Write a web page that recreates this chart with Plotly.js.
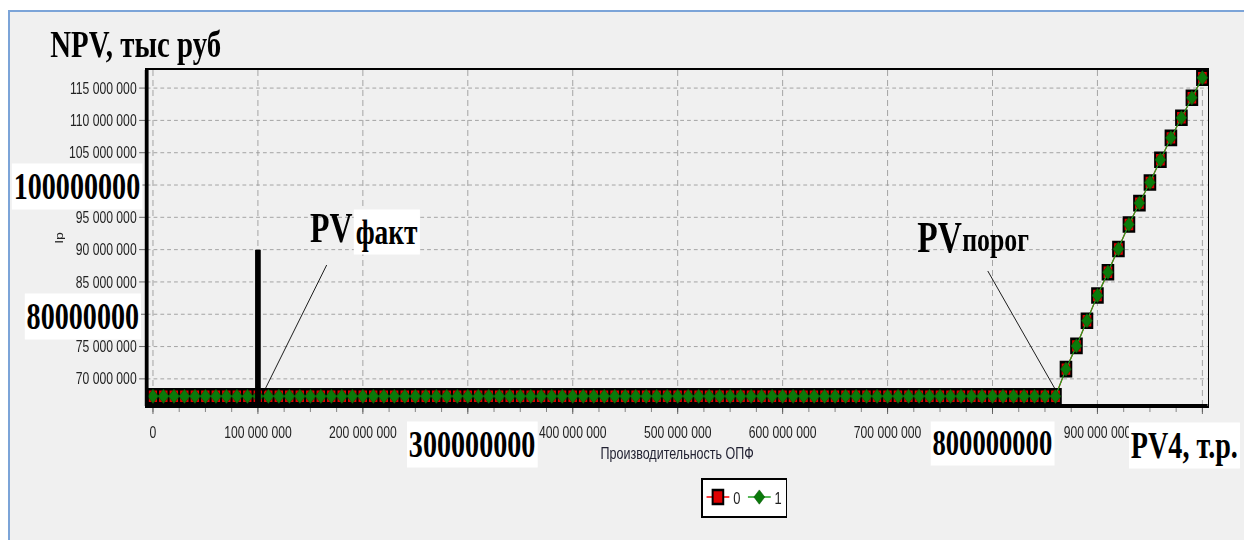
<!DOCTYPE html>
<html>
<head>
<meta charset="utf-8">
<script src="https://cdn.plot.ly/plotly-3.0.1.min.js"></script>
<style>
html,body{margin:0;padding:0;overflow:hidden;background:#ffffff;width:1244px;height:540px;}
#frame{position:absolute;left:8px;top:10px;width:1240px;height:534px;border-left:2px solid #7ca4d8;border-top:2px solid #7ca4d8;background:#f0f0f0;}
#wrap{position:absolute;left:0;top:0;width:1244px;height:540px;overflow:hidden;}
#chart{position:absolute;left:0;top:0;transform-origin:0 0;}
</style>
</head>
<body>
<div id="frame"></div>
<div id="wrap"><div id="chart"></div></div>
<script>
// ---- data (values in millions) ----
const seriesNames = ["0", "1"];
const xMln = [
  0, 10, 20, 30, 40, 50, 60, 70, 80, 90,
  100, 110, 120, 130, 140, 150, 160, 170, 180, 190,
  200, 210, 220, 230, 240, 250, 260, 270, 280, 290,
  300, 310, 320, 330, 340, 350, 360, 370, 380, 390,
  400, 410, 420, 430, 440, 450, 460, 470, 480, 490,
  500, 510, 520, 530, 540, 550, 560, 570, 580, 590,
  600, 610, 620, 630, 640, 650, 660, 670, 680, 690,
  700, 710, 720, 730, 740, 750, 760, 770, 780, 790,
  800, 810, 820, 830, 840, 850, 860, 870, 880, 890,
  900, 910, 920, 930, 940, 950, 960, 970, 980, 990,
  1000
];
const npvMln = [
  67.3, 67.3, 67.3, 67.3, 67.3, 67.3, 67.3, 67.3, 67.3, 67.3,
  67.3, 67.3, 67.3, 67.3, 67.3, 67.3, 67.3, 67.3, 67.3, 67.3,
  67.3, 67.3, 67.3, 67.3, 67.3, 67.3, 67.3, 67.3, 67.3, 67.3,
  67.3, 67.3, 67.3, 67.3, 67.3, 67.3, 67.3, 67.3, 67.3, 67.3,
  67.3, 67.3, 67.3, 67.3, 67.3, 67.3, 67.3, 67.3, 67.3, 67.3,
  67.3, 67.3, 67.3, 67.3, 67.3, 67.3, 67.3, 67.3, 67.3, 67.3,
  67.3, 67.3, 67.3, 67.3, 67.3, 67.3, 67.3, 67.3, 67.3, 67.3,
  67.3, 67.3, 67.3, 67.3, 67.3, 67.3, 67.3, 67.3, 67.3, 67.3,
  67.3, 67.3, 67.3, 67.3, 67.3, 67.3, 67.3, 71.5, 75.1, 79.0,
  82.9, 86.5, 90.1, 93.9, 97.2, 100.4, 103.9, 107.3, 110.4, 113.5,
  116.6
];
const pvFactXMln = [100, 100];
const pvFactTopMln = 90;
const xRangeMln = [-6, 1005];
const yRangeMln = [65.8, 117.8];
// tick labels (those hidden under the big overlay labels in the reference are blank)
const xTickValsMln = [0, 100, 200, 300, 400, 500, 600, 700, 800, 900, 1000];
const xTickText = ['0', '100 000 000', '200 000 000', '', '400 000 000', '500 000 000',
                   '600 000 000', '700 000 000', '', '900 000 000', ''];
const yTickValsMln = [70, 75, 80, 85, 90, 95, 100, 105, 110, 115];
const yTickText = ['70 000 000', '75 000 000', '', '85 000 000', '90 000 000',
                   '95 000 000', '', '105 000 000', '110 000 000', '115 000 000'];

// ---- geometry: reference picture is horizontally squeezed ----
const S = 0.76;
const W = Math.round(1244 / S);
const H = 540;
document.getElementById('chart').style.width = W + 'px';
document.getElementById('chart').style.height = H + 'px';
document.getElementById('chart').style.transform = 'scaleX(' + S + ')';

const M = 1e6;
const toUnits = a => a.map(v => v * M);
const X = toUnits(xMln);
const Y = toUnits(npvMln);

// reference pixel -> paper coords
const PL = 147, PR = 1208, PT = 70, PB = 406;
const px = v => (v - PL) / (PR - PL);
const py = v => (PB - v) / (PB - PT);

const serif = 'Liberation Serif, Times New Roman, serif';
const sans = 'Liberation Sans, Arial, sans-serif';

const traces = [
  {
    x: X, y: Y, name: seriesNames[0], type: 'scatter', mode: 'lines+markers',
    line: {color: '#ff0000', width: 1.5},
    marker: {symbol: 'square', size: 14, color: '#e00000', line: {color: '#000000', width: 2.6}},
    cliponaxis: false
  },
  {
    x: X, y: Y, name: seriesNames[1], type: 'scatter', mode: 'lines+markers',
    line: {color: '#22a022', width: 1.5},
    marker: {symbol: 'diamond', size: 11, color: '#0a7a0a', line: {color: '#064d06', width: 0.6}},
    cliponaxis: false
  },
  {
    x: toUnits(pvFactXMln), y: [yRangeMln[0] * M, pvFactTopMln * M],
    type: 'scatter', mode: 'lines', showlegend: false, hoverinfo: 'skip',
    line: {color: '#000000', width: 7.5}
  }
];

function label(text, cx, cy, size, opts) {
  return Object.assign({
    xref: 'paper', yref: 'paper', x: px(cx), y: py(cy),
    xanchor: 'center', yanchor: 'middle', showarrow: false,
    text: text, borderpad: 2,
    font: {family: serif, size: size, color: '#000000', weight: 'bold'}
  }, opts || {});
}

const annotations = [
  label('NPV, тыс руб', 136, 44.5, 38),
  label('100000000', 77.5, 186, 37, {bgcolor: '#ffffff'}),
  label('80000000', 83, 316, 37, {bgcolor: '#ffffff'}),
  label('300000000', 472.5, 444, 37, {bgcolor: '#ffffff'}),
  label('800000000', 993, 443, 35, {bgcolor: '#ffffff'}),
  label('PV4, т.р.', 1184.5, 445, 37, {bgcolor: '#ffffff'}),
  label('PV', 354, 227.5, 42, {xanchor: 'right', borderpad: 0}),
  label('факт', 354, 232, 36, {xanchor: 'left', bgcolor: '#ffffff'}),
  label('PV', 963, 237, 44, {xanchor: 'right', borderpad: 0}),
  label('порог', 962, 239, 34, {xanchor: 'left', borderpad: 0}),
  // leader lines
  {xref: 'paper', yref: 'paper', x: px(264), y: py(392), text: ' ', showarrow: true,
   arrowhead: 0, arrowwidth: 1, arrowcolor: '#000000', standoff: 0, startstandoff: 0,
   ax: (328 - 264) / S, ay: 263 - 392, font: {size: 1}},
  {xref: 'paper', yref: 'paper', x: px(1056), y: py(390), text: ' ', showarrow: true,
   arrowhead: 0, arrowwidth: 1, arrowcolor: '#000000', standoff: 0, startstandoff: 0,
   ax: (987 - 1056) / S, ay: 269 - 390, font: {size: 1}}
];

const layout = {
  width: W, height: H,
  margin: {l: PL / S, r: W - PR / S, t: PT, b: H - PB, pad: 0},
  paper_bgcolor: 'rgba(0,0,0,0)',
  plot_bgcolor: '#f0f0f0',
  separators: '. ',
  showlegend: true,
  legend: {
    orientation: 'h', x: px(744.5), xanchor: 'center', y: py(497.5), yanchor: 'middle',
    bgcolor: '#ffffff', bordercolor: '#000000', borderwidth: 2,
    font: {family: sans, size: 17, color: '#222222'}, itemwidth: 30,
    tracegroupgap: 0
  },
  xaxis: {
    range: xRangeMln.map(v => v * M),
    tickmode: 'array', tickvals: toUnits(xTickValsMln), ticktext: xTickText,
    ticks: 'outside', ticklen: 6, tickwidth: 1, tickcolor: '#555555', ticklabelstandoff: 5,
    minor: {dtick: 25 * M, ticks: 'outside', ticklen: 4, tickcolor: '#777777', showgrid: false},
    showgrid: true, gridcolor: '#9a9a9a', griddash: '6px,4px', gridwidth: 1,
    zeroline: false, showline: true, linecolor: '#000000', linewidth: 2, mirror: true,
    tickfont: {family: sans, size: 16, color: '#222222'},
    title: {text: 'Производительность ОПФ', standoff: 7, font: {family: sans, size: 16.5, color: '#222233'}}
  },
  yaxis: {
    range: yRangeMln.map(v => v * M),
    tickmode: 'array', tickvals: toUnits(yTickValsMln), ticktext: yTickText,
    ticks: 'outside', ticklen: 8, tickwidth: 1, tickcolor: '#555555',
    showgrid: true, gridcolor: '#9a9a9a', griddash: '5px,4px', gridwidth: 1,
    zeroline: false, showline: true, linecolor: '#000000', linewidth: 2, mirror: true,
    tickfont: {family: sans, size: 16, color: '#222222'},
    title: {text: 'Ip', standoff: 4, font: {family: sans, size: 14, color: '#222222'}}
  },
  shapes: [
    {type: 'line', xref: 'paper', yref: 'paper', x0: 0, x1: 0, y0: 0, y1: 1, line: {color: '#000000', width: 5}},
    {type: 'line', xref: 'paper', yref: 'paper', x0: 0, x1: 1, y0: 0, y1: 0, line: {color: '#000000', width: 4}}
  ],
  annotations: annotations
};

Plotly.newPlot('chart', traces, layout, {staticPlot: true, displayModeBar: false});
</script>
</body>
</html>
